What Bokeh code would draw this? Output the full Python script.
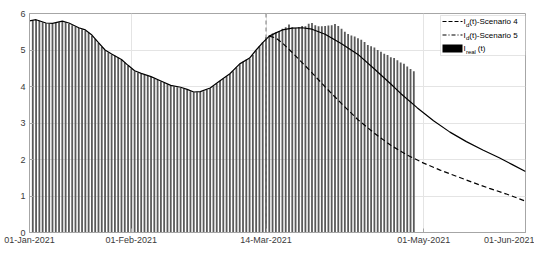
import pandas as pd
from bokeh.plotting import figure
from bokeh.models import (Range1d, FixedTicker, DatetimeTickFormatter, Span, Label,
                          BoxAnnotation, Arrow, ColumnDataSource)
from bokeh.embed import file_html
from bokeh.resources import INLINE

# ---------------- data (values in units of 10^5) ----------------
start_date = "2021-01-01"
end_date = "2021-06-01"
split_date = "2021-03-14"
tick_dates = ["2021-01-01", "2021-02-01", "2021-03-14", "2021-05-01", "2021-06-01"]
y_ticks = [0, 1, 2, 3, 4, 5, 6]

# daily observed I_real(t), starting 02-Jan-2021
real_start = "2021-01-02"
real_vals = [
    5.80, 5.82, 5.80, 5.76, 5.73, 5.72, 5.72, 5.74, 5.76, 5.78,
    5.76, 5.72, 5.68, 5.64, 5.60, 5.57, 5.53, 5.47, 5.39, 5.30,
    5.19, 5.08, 4.99, 4.93, 4.88, 4.84, 4.79, 4.73, 4.66, 4.57,
    4.49, 4.42, 4.38, 4.35, 4.32, 4.30, 4.26, 4.22, 4.18, 4.14,
    4.10, 4.06, 4.02, 4.00, 3.98, 3.96, 3.94, 3.91, 3.87, 3.84,
    3.84, 3.85, 3.87, 3.91, 3.95, 4.01, 4.08, 4.15, 4.21, 4.28,
    4.34, 4.42, 4.52, 4.61, 4.68, 4.73, 4.77, 4.86, 4.98, 5.10,
    5.21, 5.35, 5.40, 5.45, 5.48, 5.52, 5.58, 5.62, 5.70, 5.62,
    5.60, 5.63, 5.66, 5.65, 5.72, 5.74, 5.68, 5.65, 5.65, 5.66,
    5.67, 5.68, 5.71, 5.66, 5.58, 5.50, 5.44, 5.40, 5.37, 5.32,
    5.28, 5.22, 5.14, 5.10, 5.07, 5.00, 4.95, 4.90, 4.86, 4.80,
    4.78, 4.72, 4.66, 4.62, 4.55, 4.48, 4.42,
]

# I_d(t) Scenario 5 (days after 01-Jan-2021)
s5_days = [0, 2, 5, 7, 10, 12, 15, 17, 19, 21, 23, 25, 28, 30, 32, 34, 37, 40, 43, 46,
           48, 50, 52, 55, 58, 61, 64, 67, 69, 71, 73, 75, 77, 80, 83, 86, 90, 95, 100, 105,
           110, 113, 118, 123, 128, 133, 138, 143, 147, 151]
s5_vals = [5.80, 5.83, 5.74, 5.73, 5.79, 5.74, 5.61, 5.55, 5.41, 5.20, 5.00, 4.89, 4.74, 4.58, 4.43,
           4.36, 4.27, 4.15, 4.03, 3.98, 3.92, 3.85, 3.86, 3.96, 4.16, 4.35, 4.62, 4.78, 5.00, 5.20,
           5.38, 5.47, 5.55, 5.60, 5.61, 5.57, 5.43, 5.17, 4.88, 4.48, 4.07, 3.81, 3.42, 3.06, 2.75,
           2.49, 2.26, 2.05, 1.86, 1.67]

# I_d(t) Scenario 4 (days after 01-Jan-2021)
s4_days = [73, 75, 77, 80, 85, 90, 95, 100, 105, 110, 115, 120, 125, 130, 135, 140, 145, 151]
s4_vals = [5.38, 5.33, 5.19, 4.93, 4.47, 3.99, 3.53, 3.09, 2.72, 2.39, 2.12, 1.90, 1.71, 1.54,
           1.37, 1.21, 1.06, 0.86]

# ---------------- build sources ----------------
t0 = pd.Timestamp(start_date)
real_src = ColumnDataSource(dict(
    x=pd.date_range(real_start, periods=len(real_vals), freq="D"), y=real_vals))
s5_src = ColumnDataSource(dict(x=t0 + pd.to_timedelta(s5_days, unit="D"), y=s5_vals))
s4_src = ColumnDataSource(dict(x=t0 + pd.to_timedelta(s4_days, unit="D"), y=s4_vals))

DAY_MS = 86400000
FONT = "Liberation Sans"
AXIS_COL = "#a6a6a6"
TXT_COL = "#3a3a3a"

W, H = 534, 247
ML, MR, MT, MB = 29, 9, 13, 13
FW, FH = W - ML - MR, H - MT - MB

p = figure(width=W, height=H, x_axis_type="datetime", output_backend="svg",
           toolbar_location=None,
           x_range=Range1d(pd.Timestamp(start_date), pd.Timestamp(end_date)),
           y_range=Range1d(0, 6),
           min_border_left=ML, min_border_right=MR, min_border_top=MT, min_border_bottom=MB)
p.background_fill_color = "white"
p.border_fill_color = "white"
p.outline_line_color = AXIS_COL
p.outline_line_width = 1

# axes
xa = p.xaxis[0]
xa.ticker = FixedTicker(ticks=[pd.Timestamp(d).value / 1e6 for d in tick_dates])
xa.formatter = DatetimeTickFormatter(days="%d-%b-%Y", months="%d-%b-%Y", years="%d-%b-%Y",
                                     hours="%d-%b-%Y", minutes="%d-%b-%Y")
ya = p.yaxis[0]
ya.ticker = FixedTicker(ticks=y_ticks)
for ax in (xa, ya):
    ax.axis_line_color = AXIS_COL
    ax.major_tick_line_color = AXIS_COL
    ax.major_tick_in = 4
    ax.major_tick_out = 0
    ax.minor_tick_line_color = None
    ax.major_label_text_font = FONT
    ax.major_label_text_font_size = "9px"
    ax.major_label_text_color = TXT_COL
xa.major_label_standoff = 2
ya.major_label_standoff = 4

p.xgrid.grid_line_color = "#e4e4e4"
p.ygrid.grid_line_color = "#e4e4e4"

# glyphs
p.vbar(x="x", top="y", width=0.55 * DAY_MS, source=real_src,
       fill_color="#5a5a5a", line_color=None)
p.line(x="x", y="y", source=s5_src, line_color="black", line_width=1.2)
p.line(x="x", y="y", source=s4_src, line_color="black", line_width=1.2, line_dash="5 3")

p.add_layout(Span(location=pd.Timestamp(split_date).value / 1e6, dimension="height",
                  line_color="#7a7a7a", line_dash="4 3", line_width=1))

# x10^5 exponent label
p.add_layout(Label(x=4, y=FH + 1, x_units="screen", y_units="screen", text="\u00d710",
                   text_font=FONT, text_font_size="8px", text_color=TXT_COL,
                   text_baseline="bottom"))
p.add_layout(Label(x=17, y=FH + 5, x_units="screen", y_units="screen", text="5",
                   text_font=FONT, text_font_size="6px", text_color=TXT_COL,
                   text_baseline="bottom"))

# legend (manual, to allow subscripts)
lx0, lx1 = FW - 85, FW
ly1 = FH - 4
ly0 = ly1 - 40
p.add_layout(BoxAnnotation(left=lx0, right=lx1, bottom=ly0, top=ly1,
                           left_units="screen", right_units="screen",
                           bottom_units="screen", top_units="screen",
                           fill_color="white", fill_alpha=1.0,
                           line_color=AXIS_COL, line_width=1))
rows = [ly1 - 6, ly1 - 19.5, ly1 - 33]
sx0, sx1 = lx0 + 2, lx0 + 22
p.add_layout(Arrow(end=None, x_start=sx0, y_start=rows[0], x_end=sx1, y_end=rows[0],
                   start_units="screen", end_units="screen",
                   line_color="black", line_width=1.2, line_dash="4 2"))
p.add_layout(Arrow(end=None, x_start=sx0, y_start=rows[1], x_end=sx1, y_end=rows[1],
                   start_units="screen", end_units="screen",
                   line_color="black", line_width=1.2, line_dash="4 2 1 2"))
p.add_layout(BoxAnnotation(left=sx0, right=sx1, bottom=rows[2] - 4, top=rows[2] + 4,
                           left_units="screen", right_units="screen",
                           bottom_units="screen", top_units="screen",
                           fill_color="black", fill_alpha=1.0, line_color=None))

tx = sx1 + 1
def legend_text(y, sub, rest):
    p.add_layout(Label(x=tx, y=y, x_units="screen", y_units="screen", text="I",
                       text_font=FONT, text_font_size="8px", text_color="black",
                       text_baseline="middle"))
    p.add_layout(Label(x=tx + 2.4, y=y - 3, x_units="screen", y_units="screen", text=sub,
                       text_font=FONT, text_font_size="6px", text_color="black",
                       text_baseline="middle"))
    p.add_layout(Label(x=tx + 2.4 + 0.56 * 6 * (len(sub)) - (1.5 if sub == "real" else 0),
                       y=y, x_units="screen", y_units="screen", text=rest,
                       text_font=FONT, text_font_size="8px", text_color="black",
                       text_baseline="middle"))

legend_text(rows[0], "d", "(t)-Scenario 4")
legend_text(rows[1], "d", "(t)-Scenario 5")
legend_text(rows[2], "real", "(t)")

open("out.html", "w").write(file_html(p, INLINE))
